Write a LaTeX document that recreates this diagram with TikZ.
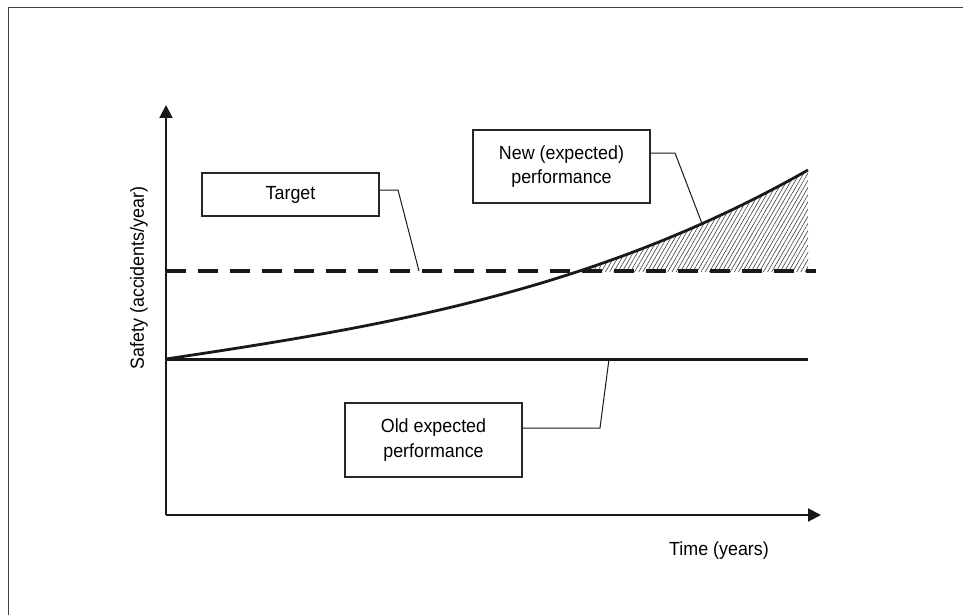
\documentclass[tikz,border=0pt]{standalone}
\usepackage{fontspec}
\setmainfont[FakeStretch=0.94]{Liberation Sans}
\usetikzlibrary{arrows.meta,patterns.meta}
\begin{document}
\begin{tikzpicture}[x=1pt,y=-1pt,
  axisline/.style={line width=2pt, draw=black!90, -{Triangle[length=13pt,width=13pt]}},
  labelbox/.style={draw=black!85, line width=1.2pt, minimum width=177pt, align=center,
    inner sep=0pt, font=\fontsize{19}{24.5}\selectfont},
  leader/.style={line width=1pt, draw=black!90},
  txt/.style={font=\fontsize{19}{24.5}\selectfont},
  hatch/.style={pattern={Lines[angle=60,distance=3.6pt,line width=0.55pt]}, pattern color=black!80},
]
\useasboundingbox (0,0) rectangle (963,615);

% outer frame (left and top edges)
\draw[line width=1.6pt, black!75] (8.5,615) -- (8.5,7.5) -- (963,7.5);

% key points
\coordinate (O) at (166,515);
\coordinate (ytip) at (166,105);
\coordinate (xtip) at (821,515);
\coordinate (c0) at (166,359);
\coordinate (c1) at (808,170);
\coordinate (oldend) at (808,359);
\coordinate (t0) at (166,271);
\coordinate (t1) at (816,271);

% hatched gain between the new curve and the target
\begin{scope}
  \clip (166,170) rectangle (809,271);
  \clip (c0) .. controls (380,327) and (594,292) .. (c1) -- (809,400) -- (166,400) -- cycle;
  \fill[hatch] (160,150) rectangle (815,280);
\end{scope}

% target (dashed)
\draw[line width=3.5pt, black!90, dash pattern=on 20pt off 12pt] (t0) -- (t1);
% new expected performance
\draw[line width=2.8pt, black!90] (c0) .. controls (380,327) and (594,292) .. (c1);
% old expected performance
\draw[line width=3pt, black!90] (c0) -- (oldend);

% axes
\draw[axisline] (O) -- (ytip);
\draw[axisline] (O) -- (xtip);

% axis labels
\node[txt, rotate=90] (ylab) at (139,278) {Safety (accidents/year)};
\node[txt] (xlab) at (719,551) {Time (years)};

% callout boxes
\node[labelbox, minimum height=43pt] (target) at (290.5,194.5) {Target};
\node[labelbox, minimum height=73pt] (newbox) at (561.5,166.5) {New (expected)\\performance};
\node[labelbox, minimum height=74pt] (oldbox) at (433.5,440) {Old expected\\performance};

% leader lines
\coordinate (tk) at (398,190);
\coordinate (tend) at (419,271);
\draw[leader] (target.east |- tk) -- (tk) -- (tend);
\coordinate (nk) at (675,153);
\coordinate (nend) at (702,223.5);
\draw[leader] (newbox.east |- nk) -- (nk) -- (nend);
\coordinate (ok) at (600,428);
\coordinate (oend) at (609,359);
\draw[leader] (oldbox.east |- ok) -- (ok) -- (oend);
\end{tikzpicture}
\end{document}
